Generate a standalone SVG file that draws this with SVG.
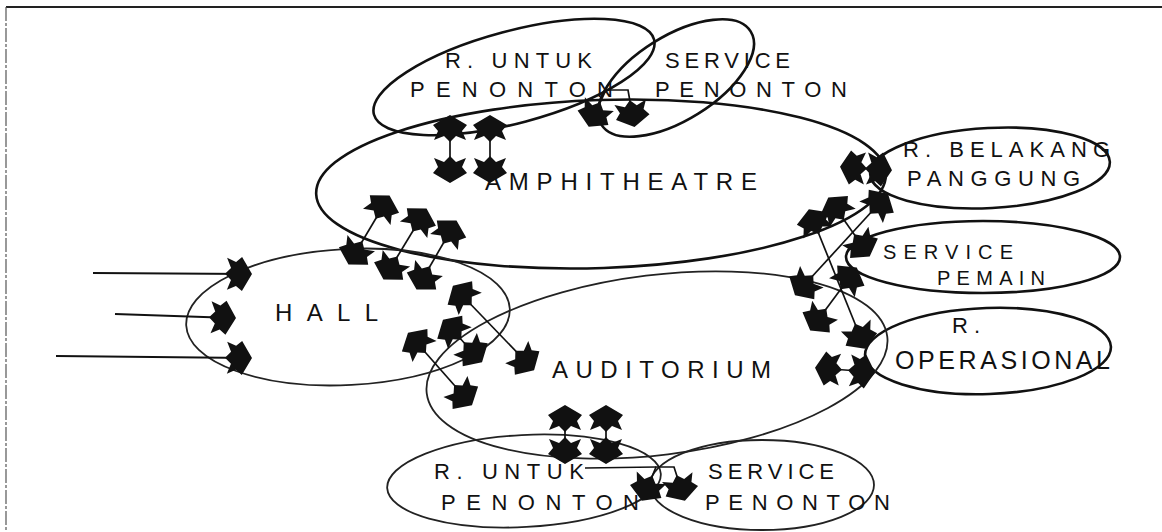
<svg xmlns="http://www.w3.org/2000/svg" width="1162" height="532" viewBox="0 0 1162 532">
<style>
.bg{fill:#fff}
.room{fill:none;stroke:#111;stroke-width:2.6}
.faint{fill:none;stroke:#222;stroke-width:1.8}
.lbl{font-family:"Liberation Sans",Arial,sans-serif;font-size:22px;fill:#111}
.big{font-size:24px}
.sm{font-size:20px}
.conn{fill:none;stroke:#111;stroke-width:1.7;marker-start:url(#ah);marker-end:url(#ah)}
.entry{fill:none;stroke:#111;stroke-width:2;marker-end:url(#ah)}
.plain{fill:none;stroke:#111;stroke-width:1.6}
.frame{stroke:#222;stroke-width:2;fill:none}
.frame2{stroke:#555;stroke-width:1.2;fill:none;stroke-dasharray:14 2 3 2}
</style>
<defs>
<marker id="ah" viewBox="-26 -19 30 38" refX="0" refY="0" markerWidth="30" markerHeight="38" markerUnits="userSpaceOnUse" orient="auto-start-reverse">
<path d="M3,0 L-7,-17 L-13,-12 L-22,-16 L-18,-6 L-24,0 L-18,6 L-22,16 L-13,12 L-7,17 Z" fill="#111"/>
</marker>
</defs>
<rect class="bg" x="0" y="0" width="1162" height="532"/>
<g id="frame">
<line class="frame" x1="6" y1="7" x2="1162" y2="7"/>
<line class="frame2" x1="6" y1="7" x2="6" y2="532"/>
</g>

<g id="amphitheatre">
<ellipse class="room" cx="601" cy="184" rx="285" ry="84" transform="rotate(-2 601 184)"/>
<text class="lbl big" x="485" y="190" textLength="272" lengthAdjust="spacing">AMPHITHEATRE</text>
</g>
<g id="r-untuk-penonton-top">
<ellipse class="room" cx="514" cy="77" rx="145" ry="46" transform="rotate(-15 514 77)"/>
<text class="lbl" x="445" y="68" textLength="147" lengthAdjust="spacing">R. UNTUK</text>
<text class="lbl" x="410" y="97" textLength="203" lengthAdjust="spacing">PENONTON</text>
</g>
<g id="service-penonton-top">
<ellipse class="room" cx="676" cy="78" rx="88" ry="42" transform="rotate(-32 676 78)"/>
<text class="lbl" x="665" y="68" textLength="125" lengthAdjust="spacing">SERVICE</text>
<text class="lbl" x="655" y="97" textLength="192" lengthAdjust="spacing">PENONTON</text>
</g>
<g id="r-belakang-panggung">
<ellipse class="room" cx="990" cy="168" rx="120" ry="40" transform="rotate(-3 990 168)"/>
<text class="lbl" x="903" y="157" textLength="207" lengthAdjust="spacing">R. BELAKANG</text>
<text class="lbl" x="907" y="186" textLength="173" lengthAdjust="spacing">PANGGUNG</text>
</g>
<g id="service-pemain">
<ellipse class="room" cx="983" cy="257" rx="137" ry="36"/>
<text class="lbl sm" x="883" y="259" textLength="130" lengthAdjust="spacing">SERVICE</text>
<text class="lbl sm" x="937" y="285" textLength="108" lengthAdjust="spacing">PEMAIN</text>
</g>
<g id="r-operasional">
<ellipse class="room" cx="988" cy="351" rx="123" ry="43" transform="rotate(-2 988 351)"/>
<text class="lbl" x="952" y="333" textLength="28" lengthAdjust="spacing">R.</text>
<text class="lbl" x="895" y="369" textLength="215" lengthAdjust="spacing" style="font-size:25px">OPERASIONAL</text>
</g>
<g id="hall">
<ellipse class="faint" cx="348" cy="317" rx="162" ry="68" transform="rotate(-3 348 317)"/>
<text class="lbl big" x="275" y="321" textLength="103" lengthAdjust="spacing">HALL</text>
</g>
<g id="auditorium">
<ellipse class="faint" cx="657" cy="365" rx="232" ry="90" transform="rotate(-7 657 365)"/>
<text class="lbl big" x="552" y="378" textLength="219" lengthAdjust="spacing">AUDITORIUM</text>
</g>
<g id="r-untuk-penonton-bottom">
<ellipse class="faint" cx="524" cy="481" rx="137" ry="46" transform="rotate(-3 524 481)"/>
<text class="lbl" x="434" y="479" textLength="150" lengthAdjust="spacing">R. UNTUK</text>
<text class="lbl" x="441" y="510" textLength="198" lengthAdjust="spacing">PENONTON</text>
</g>
<g id="service-penonton-bottom">
<ellipse class="faint" cx="762" cy="485" rx="112" ry="45"/>
<text class="lbl" x="708" y="479" textLength="126" lengthAdjust="spacing">SERVICE</text>
<text class="lbl" x="705" y="510" textLength="185" lengthAdjust="spacing">PENONTON</text>
</g>

<g id="connectors">
<path class="entry" d="M93,273 L249,274"/>
<path class="entry" d="M115,314 L233,318"/>
<path class="entry" d="M56,356 L249,358"/>
<path class="conn" d="M450,118 L450,180"/>
<path class="conn" d="M490,118 L490,180"/>
<path class="conn" d="M590,124 L606,90 L628,90 L634,124"/>
<path class="conn" d="M350,262 L388,198"/>
<path class="conn" d="M385,277 L425,211"/>
<path class="conn" d="M418,287 L455,223"/>
<path class="conn" d="M455,288 L532,368"/>
<path class="conn" d="M445,322 L480,360"/>
<path class="conn" d="M410,335 L470,403"/>
<path class="conn" d="M843,167 L889,170"/>
<path class="conn" d="M810,212 L864,346"/>
<path class="conn" d="M886,196 L797,293"/>
<path class="conn" d="M830,200 L868,254"/>
<path class="conn" d="M855,270 L812,328"/>
<path class="conn" d="M818,368 L872,372"/>
<path class="conn" d="M565,408 L565,461"/>
<path class="conn" d="M606,408 L606,461"/>
<path class="plain" d="M585,468 L656,467"/>
<path class="conn" d="M643,498 L656,467 L674,467 L684,498"/>
</g>
</svg>
